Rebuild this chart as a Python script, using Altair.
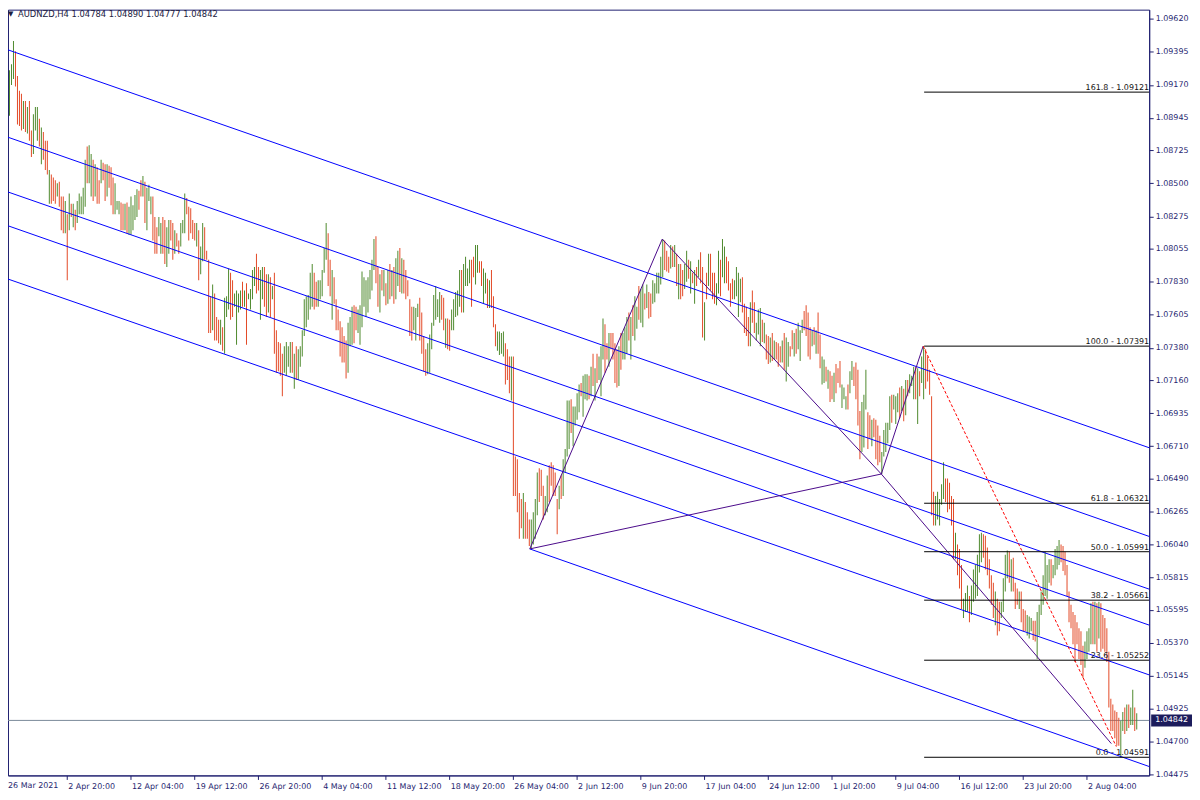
import altair as alt
import pandas as pd

# ---------------- colours / fonts ----------------
GREEN = "#4f8a2e"
RED = "#e34a27"
BLUE = "#0000ff"
PURPLE = "#4b0a8a"
NAVY = "#1f1f70"
BOXNAVY = "#1c1c5c"
BIDGRAY = "#7a8a99"
FONT = "DejaVu Sans"

# ---------------- H4 bars (price in pips, 1 pip = 0.0001) ----------------
HI_1 = [10914,10923,10924,10927,10931,10947,10940,10923,10913,10911,
        10906,10906,10902,10906,10886,10897,10902,10902,10894,10888,
        10885,10879,10879,10859,10856,10854,10852,10850,10851,10841,
        10841,10838,10829,10843,10836,10836,10832,10838,10843,10841,
        10847,10866,10875,10876,10870,10866,10863,10861,10852,10866,
        10864,10863,10863,10862,10861,10854,10850,10838,10838,10837,
        10836,10836,10837,10834,10841,10835,10842,10846,10845,10852,
        10855,10851,10847,10849,10841,10841,10827,10820,10827,10823,
        10827,10825,10820,10825,10825,10823,10818,10816,10811,10823,
        10825,10843,10840,10834,10833,10825,10823,10823,10818]
LO_1 = [10891,10896,10911,10896,10917,10921,10916,10890,10889,10886,
        10887,10885,10884,10879,10868,10870,10886,10879,10875,10863,
        10866,10859,10856,10836,10836,10838,10836,10841,10834,10818,
        10816,10816,10784,10818,10827,10820,10818,10823,10829,10829,
        10829,10834,10850,10850,10841,10838,10841,10836,10836,10850,
        10852,10838,10841,10847,10835,10829,10829,10832,10829,10818,
        10818,10818,10816,10815,10815,10818,10825,10827,10832,10841,
        10841,10823,10818,10838,10829,10811,10802,10802,10814,10802,
        10802,10795,10793,10802,10811,10798,10802,10807,10802,10807,
        10816,10816,10829,10811,10816,10812,10811,10807,10784]
DIR_1 = ("GGGGGGRRRR" "GRGRRGGGRG" "RRRGRRRGRR" "RGRGRGRGGG" "GGRGGRGRRG"
         "RRGRRRGGGR" "RGRGGGGGRR" "GRGGGRRRGG" "RRGGRRGRRG" "GGRRRRRGR")

HI_2 = [10807,10823,10820,10804,10798,10773,10781,10775,10759,10757,
        10757,10752,10772,10773,10792,10789,10784,10775,10777,10775,
        10777,10783,10777,10782,10775,10778,10791,10793,10802,10793,
        10791,10793,10793,10788,10788,10786,10780,10789,10750,10742,
        10741,10734,10739,10742,10739,10742,10742,10734,10739,10737,
        10739,10750,10771,10773,10774,10789,10795,10789,10783,10784,
        10784,10791,10806,10823,10816,10798,10791,10786,10771,10764,
        10756,10752,10746,10743,10755,10759,10766,10767,10766,10764,
        10767,10790,10786,10784,10786,10791,10798,10812,10814,10793,
        10788,10791,10791,10782,10791,10795,10791,10793,10799,10804,
        10806,10799,10798,10791,10784,10771,10766,10766,10765,10768]
LO_2 = [10788,10797,10798,10798,10748,10748,10750,10743,10743,10741,
        10740,10736,10734,10759,10764,10757,10759,10766,10740,10762,
        10764,10766,10766,10740,10771,10764,10771,10780,10775,10777,
        10757,10771,10766,10759,10762,10759,10771,10734,10721,10722,
        10719,10705,10721,10719,10725,10721,10721,10710,10716,10716,
        10725,10732,10746,10752,10757,10764,10766,10764,10766,10766,
        10771,10773,10789,10798,10780,10773,10757,10768,10750,10750,
        10732,10728,10728,10717,10721,10739,10740,10741,10750,10748,
        10740,10752,10766,10759,10762,10771,10777,10791,10782,10766,
        10762,10777,10773,10767,10768,10771,10773,10768,10771,10780,
        10776,10775,10775,10771,10773,10746,10743,10750,10743,10759]
DIR_2 = ("GGRRRRGRRR" "GRGGGRRGGG" "GRGRGGGGRR" "GGRRGRGRRR" "RRGGGGRGRG"
         "GGGGGGGRRG" "GGGGRRGRRR" "RRRRGGGRRG" "GGGGGGGGRR" "GRGRGRGRGG"
         "RGRRRRRGGG")

HI_3 = [10772,10762,10746,10737,10741,10747,10755,10774,10780,10771,
        10776,10774,10772,10758,10758,10757,10764,10771,10776,10777,
        10791,10791,10795,10800,10792,10798,10798,10800,10808,10808,
        10797,10797,10792,10789,10785,10784,10791,10773,10754,10749,
        10749,10748,10749,10741,10737,10732,10732,10732,10664,10662,
        10639,10635,10639,10633,10626,10621,10621,10626,10635,10653,
        10656,10655,10644,10637,10651,10658,10660,10658,10653,10635,
        10644,10651,10662,10669,10702,10702,10703,10698,10698,10707,
        10713,10714,10719,10720,10720,10719,10725,10734,10724,10734,
        10732,10739,10758,10754,10741,10748,10748,10748,10741,10737]
LO_3 = [10743,10734,10722,10719,10720,10721,10737,10753,10757,10759,
        10755,10757,10750,10738,10737,10736,10750,10750,10759,10760,
        10766,10762,10762,10780,10780,10782,10766,10786,10781,10789,
        10789,10780,10768,10775,10765,10765,10765,10752,10739,10736,
        10733,10734,10732,10713,10716,10707,10702,10637,10637,10626,
        10608,10615,10608,10608,10608,10603,10601,10604,10608,10624,
        10633,10637,10621,10624,10626,10633,10644,10637,10637,10611,
        10628,10635,10637,10653,10664,10669,10680,10671,10685,10689,
        10694,10705,10691,10703,10702,10703,10705,10712,10702,10714,
        10716,10705,10730,10721,10730,10725,10737,10730,10714,10711]
DIR_3 = ("RRRRGGGGGG" "GRRGRRGGGG" "GRGGGGRRGG" "RRGGRGRRRG" "GGGRRRGRRR"
         "RRGRRRGGGG" "RRRGGRRRRR" "GRGGGGRGGG" "GRGGGRGRGR" "GGGRRGRRRR")

HI_4 = [10739,10748,10748,10752,10759,10762,10759,10767,10773,10766,
        10780,10778,10781,10775,10781,10776,10775,10784,10782,10789,
        10789,10800,10812,10811,10804,10800,10808,10807,10808,10802,
        10795,10795,10791,10795,10804,10798,10797,10789,10791,10793,
        10798,10803,10793,10769,10789,10802,10802,10789,10789,10782,
        10804,10798,10812,10807,10800,10797,10782,10785,10784,10793,
        10789,10785,10786,10768,10766,10759,10769,10777,10769,10755,
        10764,10765,10757,10755,10747,10746,10745,10748,10743,10742,
        10741,10739,10743,10748,10745,10742,10739,10750,10748,10751,
        10755,10750,10757,10763,10767,10762,10752,10750,10752,10750]
LO_4 = [10712,10723,10730,10730,10734,10743,10730,10746,10743,10751,
        10757,10755,10752,10764,10765,10758,10759,10768,10769,10775,
        10775,10781,10786,10791,10790,10789,10792,10793,10793,10780,
        10771,10771,10773,10778,10783,10785,10775,10782,10768,10780,
        10786,10782,10745,10743,10771,10780,10777,10771,10768,10767,
        10775,10773,10786,10782,10782,10777,10766,10771,10771,10773,
        10759,10769,10762,10748,10746,10739,10739,10755,10748,10743,
        10747,10739,10742,10741,10730,10727,10728,10729,10730,10730,
        10725,10728,10728,10723,10715,10725,10732,10737,10732,10734,
        10737,10729,10748,10750,10746,10732,10730,10739,10740,10734]
DIR_4 = ("GRGGGRGRGG" "RGGRGRRGGG" "GGGRRRGRGR" "GRRGGRGRGR" "GRRGRGRRRG"
         "GRGGRRRRGG" "GGRRRRGRRG" "GGRGRRGRGR" "RRGRGGRRGR" "GGGRRRRGRG")

HI_5 = [10762,10747,10732,10730,10725,10723,10722,10719,10721,10727,
        10724,10729,10713,10711,10705,10713,10722,10729,10725,10728,
        10723,10695,10701,10706,10723,10694,10692,10689,10690,10689,
        10685,10678,10667,10682,10687,10687,10705,10706,10706,10705,
        10707,10711,10712,10710,10716,10716,10720,10719,10725,10725,
        10724,10722,10732,10739,10737,10732,10723,10705,10640,10637,
        10640,10635,10645,10660,10649,10649,10646,10637,10635,10612]
LO_5 = [10734,10724,10713,10714,10715,10710,10701,10703,10701,10707,
        10714,10711,10697,10703,10696,10696,10707,10716,10712,10703,
        10685,10662,10667,10670,10696,10669,10676,10671,10677,10662,
        10658,10660,10652,10664,10667,10673,10682,10687,10696,10686,
        10694,10690,10695,10688,10692,10705,10707,10712,10703,10703,
        10686,10705,10714,10703,10710,10715,10706,10624,10617,10617,
        10621,10617,10631,10635,10633,10626,10628,10617,10594,10594]
DIR_5 = ("RRGGRGRRGR" "RRGGGRGGRR" "RRGGGRRGRR" "RRGGGGGRGG" "GRGRGRGGGR"
         "GRGGRRRRRG" "GGGGRRRRRG")

HI_6 = [10604,10601,10590,10567,10571,10576,10569,10576,10587,10590,
        10597,10611,10612,10611,10610,10602,10594,10583,10578,10572,
        10567,10565,10565,10581,10597,10600,10599,10594,10595,10578,
        10574,10572,10572,10560,10559,10556,10555,10554,10552,10552,
        10558,10563,10572,10583,10599,10590,10594,10594,10590,10601,
        10603,10607,10604,10603,10599,10590,10572,10563,10558,10556,
        10551,10547,10545,10535,10538,10545,10547,10564,10565,10565,
        10564,10565,10564,10556,10554,10547,10531,10499,10495,10491,
        10490,10486,10484,10490,10493,10495,10495,10493,10505,10493,10489]
LO_6 = [10583,10574,10560,10554,10558,10558,10551,10556,10565,10567,
        10569,10585,10592,10595,10587,10583,10574,10563,10554,10549,
        10542,10545,10554,10558,10572,10581,10578,10572,10572,10560,
        10563,10560,10551,10545,10545,10542,10540,10545,10539,10538,
        10526,10542,10556,10563,10569,10567,10578,10576,10581,10583,
        10587,10590,10592,10586,10583,10569,10551,10547,10536,10524,
        10536,10526,10522,10513,10520,10526,10531,10536,10536,10536,
        10531,10540,10531,10533,10531,10524,10493,10477,10477,10472,
        10467,10467,10459,10477,10475,10477,10479,10481,10481,10477,10478]
DIR_6 = ("RRRGGGRGGG" "GGGRRRRRRG" "RRGGGGRGRR" "RGRRRGGGRR" "GGGGGGGRGG"
         "GGRRRRRRRR" "RRRRGGGGRG" "RGRRRRRRRR" "RRGGRGRGGRG")

# ---------------- axes ----------------
DATE_LABELS = ["26 Mar 2021", "2 Apr 20:00", "12 Apr 04:00", "19 Apr 12:00",
               "26 Apr 20:00", "4 May 04:00", "11 May 12:00", "18 May 20:00",
               "26 May 04:00", "2 Jun 12:00", "9 Jun 20:00", "17 Jun 04:00",
               "24 Jun 12:00", "1 Jul 20:00", "9 Jul 04:00", "16 Jul 12:00",
               "23 Jul 20:00", "2 Aug 04:00"]
DATE_BARS = [32 * k for k in range(len(DATE_LABELS))]
PRICE_TICKS = [1.09620, 1.09395, 1.09170, 1.08945, 1.08725, 1.08500, 1.08275,
               1.08055, 1.07830, 1.07605, 1.07380, 1.07160, 1.06935, 1.06710,
               1.06490, 1.06265, 1.06040, 1.05815, 1.05595, 1.05370, 1.05145,
               1.04925, 1.04700, 1.04475]

# ---------------- drawn objects ----------------
CH_X1 = [-0.5, -0.5, -0.5, -0.5, -0.5, 264.5]
CH_P1 = [1.09423, 1.08828, 1.08455, 1.08225, 1.07862, 1.06010]
CH_X2 = [575.5, 575.5, 575.5, 575.5, 575.5, 575.5]
CH_P2 = [1.06699, 1.06095, 1.05736, 1.05491, 1.05152, 1.04528]
ZZ_X1 = [264.5, 331, 441, 264.5, 441]
ZZ_P1 = [1.06010, 1.08120, 1.06520, 1.06010, 1.06520]
ZZ_X2 = [331, 441, 556.5, 441, 462]
ZZ_P2 = [1.08120, 1.06520, 1.04684, 1.06520, 1.07391]
RD_X = [462, 559]
RD_P = [1.07391, 1.04664]
FIB_LEVELS = [161.8, 100.0, 61.8, 50.0, 38.2, 23.6, 0.0]
FIB_PRICES = [1.09121, 1.07391, 1.06321, 1.05991, 1.05661, 1.05252, 1.04591]
FIB_START = 462.5
BID = 1.04842
HEADER = "AUDNZD,H4  1.04784 1.04890 1.04777 1.04842"

# ---------------- tables ----------------
HI = HI_1 + HI_2 + HI_3 + HI_4 + HI_5 + HI_6
LO = LO_1 + LO_2 + LO_3 + LO_4 + LO_5 + LO_6
DIRS = DIR_1 + DIR_2 + DIR_3 + DIR_4 + DIR_5 + DIR_6
bars_df = pd.DataFrame({
    "i": list(range(len(HI))),
    "hi": [h / 10000 for h in HI],
    "lo": [l / 10000 for l in LO],
    "dir": list(DIRS),
})
bars_df["i2"] = bars_df["i"] + 0.5   # one screen pixel wide bar body
ch_df = pd.DataFrame({"x1": CH_X1, "p1": CH_P1, "x2": CH_X2, "p2": CH_P2})
zz_df = pd.DataFrame({"x1": ZZ_X1, "p1": ZZ_P1, "x2": ZZ_X2, "p2": ZZ_P2})
rd_df = pd.DataFrame({"x1": [RD_X[0]], "p1": [RD_P[0]], "x2": [RD_X[1]], "p2": [RD_P[1]]})
fib_df = pd.DataFrame({
    "x1": [FIB_START] * len(FIB_PRICES),
    "x2": [575.5] * len(FIB_PRICES),
    "p": FIB_PRICES,
    "label": [f"{l:.1f} - {p:.5f}" for l, p in zip(FIB_LEVELS, FIB_PRICES)],
})
bid_df = pd.DataFrame({"p": [BID], "t": [f"{BID:.5f}"]})

W, H = 1146, 769
XS = alt.Scale(domain=[2.5, 575.5], nice=False, zero=False)
YS = alt.Scale(domain=[1.044674, 1.096827], nice=False, zero=False)

label_expr = "[" + ",".join(f"'{s}'" for s in DATE_LABELS) + "][round(datum.value/32)]"
XA = alt.Axis(values=DATE_BARS[1:], labelExpr=label_expr, orient="bottom",
              tickSize=4, labelPadding=3, labelAlign="left", labelBaseline="top",
              labelOffset=1, labelFont=FONT, labelFontSize=8, labelColor=NAVY,
              domainColor=NAVY, tickColor=NAVY, grid=False, title=None,
              labelOverlap=False, labelFlush=False, labelBound=False)
YA = alt.Axis(values=PRICE_TICKS, format=".5f", orient="right", tickSize=4,
              labelPadding=2, labelFont=FONT, labelFontSize=8, labelColor=NAVY,
              domainColor=NAVY, tickColor=NAVY, grid=False, title=None,
              labelOverlap=False, labelFlush=False, labelBound=False)


def X(f):
    return alt.X(f, scale=XS, axis=XA)


def Y(f):
    return alt.Y(f, scale=YS, axis=YA)


bid_line = alt.Chart(bid_df).mark_rule(color=BIDGRAY, strokeWidth=1).encode(
    x=alt.value(0), x2=alt.value(W), y=Y("p:Q"))

bars = alt.Chart(bars_df).mark_rect(clip=True).encode(
    x=X("i:Q"), x2="i2:Q",
    y=Y("lo:Q"), y2="hi:Q",
    color=alt.Color("dir:N", scale=alt.Scale(domain=["G", "R"], range=[GREEN, RED]),
                    legend=None))


def seg_layer(df, color, dash=None):
    kw = dict(color=color, strokeWidth=1, clip=True)
    if dash:
        kw["strokeDash"] = dash
    return alt.Chart(df).mark_rule(**kw).encode(
        x=X("x1:Q"), y=Y("p1:Q"), x2="x2:Q", y2="p2:Q")


channels = seg_layer(ch_df, BLUE)
zigzag = seg_layer(zz_df, PURPLE)
reddash = seg_layer(rd_df, "#ff0000", [3, 2])

fib_lines = alt.Chart(fib_df).mark_rule(color="#000000", strokeWidth=1, clip=True).encode(
    x=X("x1:Q"), x2="x2:Q", y=Y("p:Q"))
fib_text = alt.Chart(fib_df).mark_text(align="right", baseline="alphabetic", dy=-2,
                                       font=FONT, fontSize=8, color="#111111").encode(
    x=alt.value(W), y=Y("p:Q"), text="label:N")

bid_box = alt.Chart(bid_df).mark_rule(color=BOXNAVY, strokeWidth=12).encode(
    x=alt.value(1148), x2=alt.value(1189), y=Y("p:Q"))
bid_text = alt.Chart(bid_df).mark_text(align="left", baseline="middle", font=FONT,
                                       fontSize=8, color="#ffffff").encode(
    x=alt.value(1152), y=Y("p:Q"), text="t:N")

hdr_df = pd.DataFrame({"t": [HEADER]})
header = alt.Chart(hdr_df).mark_text(align="left", baseline="alphabetic", font=FONT,
                                     fontSize=8.4, color="#202040").encode(
    x=alt.value(10), y=alt.value(7.5), text="t:N")
tri = alt.Chart(pd.DataFrame({"t": ["\u25bc"]})).mark_text(
    align="left", baseline="alphabetic", font=FONT, fontSize=7, color="#202040").encode(
    x=alt.value(0), y=alt.value(6.5), text="t:N")
first_date = alt.Chart(pd.DataFrame({"t": [DATE_LABELS[0]]})).mark_text(
    align="left", baseline="top", font=FONT, fontSize=8, color=NAVY).encode(
    x=alt.value(0), y=alt.value(H + 7), text="t:N")

chart = alt.layer(
    bid_line, bars, channels, zigzag, reddash, fib_lines, fib_text,
    bid_box, bid_text, header, tri, first_date
).properties(
    width=W, height=H,
    padding={"left": 0, "top": 0, "right": 43, "bottom": 15},
    autosize=alt.AutoSizeParams(type="none"),
).configure(background="#ffffff").configure_view(stroke=NAVY, strokeWidth=1)

chart.save("out.html", embed_options={"renderer": "svg", "actions": False})
